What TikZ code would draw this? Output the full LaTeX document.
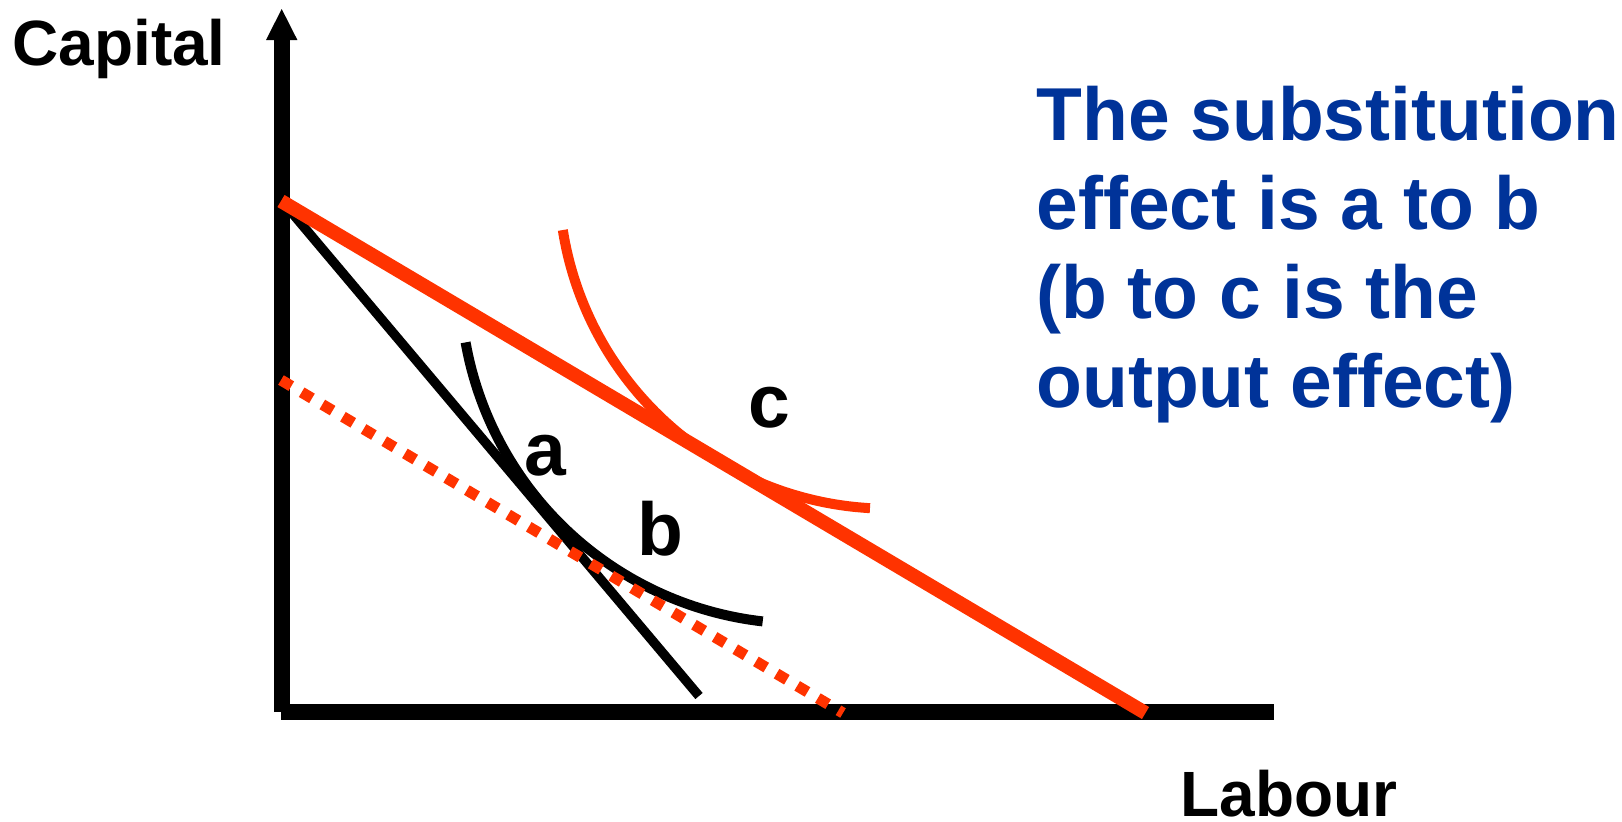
\documentclass[tikz,border=0pt]{standalone}
\usepackage{fontspec}
\setmainfont{Liberation Sans}
\definecolor{pptred}{HTML}{FF3300}
\definecolor{pptblue}{HTML}{003399}
\tikzset{
  axisline/.style={line width=8pt, black, line cap=butt},
  budget/.style={line width=7pt, pptred, line cap=butt},
  oldbudget/.style={line width=4.75pt, black, line cap=butt},
  isoblack/.style={line width=5pt, black, line cap=butt},
  isored/.style={line width=5pt, pptred, line cap=butt},
  dotbudget/.style={line width=5.5pt, pptred, line cap=butt, dash pattern=on 6pt off 6pt},
  axislabel/.style={inner sep=0pt, anchor=base west, font=\bfseries\fontsize{32}{38}\selectfont},
  pointlabel/.style={inner sep=0pt, anchor=base west, font=\bfseries\fontsize{37.5}{44}\selectfont},
  note/.style={inner sep=0pt, anchor=base west, text=pptblue, font=\bfseries\fontsize{37.5}{44}\selectfont}
}
\begin{document}
\begin{tikzpicture}[x=0.5pt, y=-0.5pt]
\useasboundingbox (0,0) rectangle (1622,821);
% coordinates
\coordinate (O) at (281.7,712);
\coordinate (Ytop) at (281.7,39);
\coordinate (Xorig) at (281,712);
\coordinate (Xend) at (1274,712);
\coordinate (RedA) at (281,201);
\coordinate (RedB) at (1145.5,713);
\coordinate (BlkA) at (282,201);
\coordinate (BlkB) at (699,696);
\coordinate (DotA) at (281,380);
\coordinate (DotB) at (843,713);
% axes
\draw[axisline] (O) -- (Ytop);
\draw[axisline] (Xorig) -- (Xend);
\fill[black] (281.7,9) -- (266,40) -- (297.4,40) -- cycle;
% old budget line and isoquant (circular arc)
\draw[oldbudget] (BlkA) -- (BlkB);
\draw[isoblack] plot[domain=169.9:96.5, samples=120, variable=\t]
  ({801.3+341*cos(\t)},{282.6+341*sin(\t)});
% dotted budget line
\draw[dotbudget] (DotA) -- (DotB);
% new budget line and isoquant (circular arc)
\draw[budget] (RedA) -- (RedB);
\draw[isored] plot[domain=171.05:93.27, samples=120, variable=\t]
  ({888.8+330*cos(\t)},{178.7+330*sin(\t)});
% labels
\node[axislabel] (cap) at (12,65) {Capital};
\node[axislabel] (lab) at (1180,816) {Labour};
\node[pointlabel] (la) at (524,475) {a};
\node[pointlabel] (lb) at (637,555) {b};
\node[pointlabel] (lc) at (748.5,427) {c};
\node[note] (t1) at (1036,140) {The substitution};
\node[note] (t2) at (1036,229) {effect is a to b};
\node[note] (t3) at (1036,318) {(b to c is the};
\node[note] (t4) at (1036,407) {output effect)};
\end{tikzpicture}
\end{document}
